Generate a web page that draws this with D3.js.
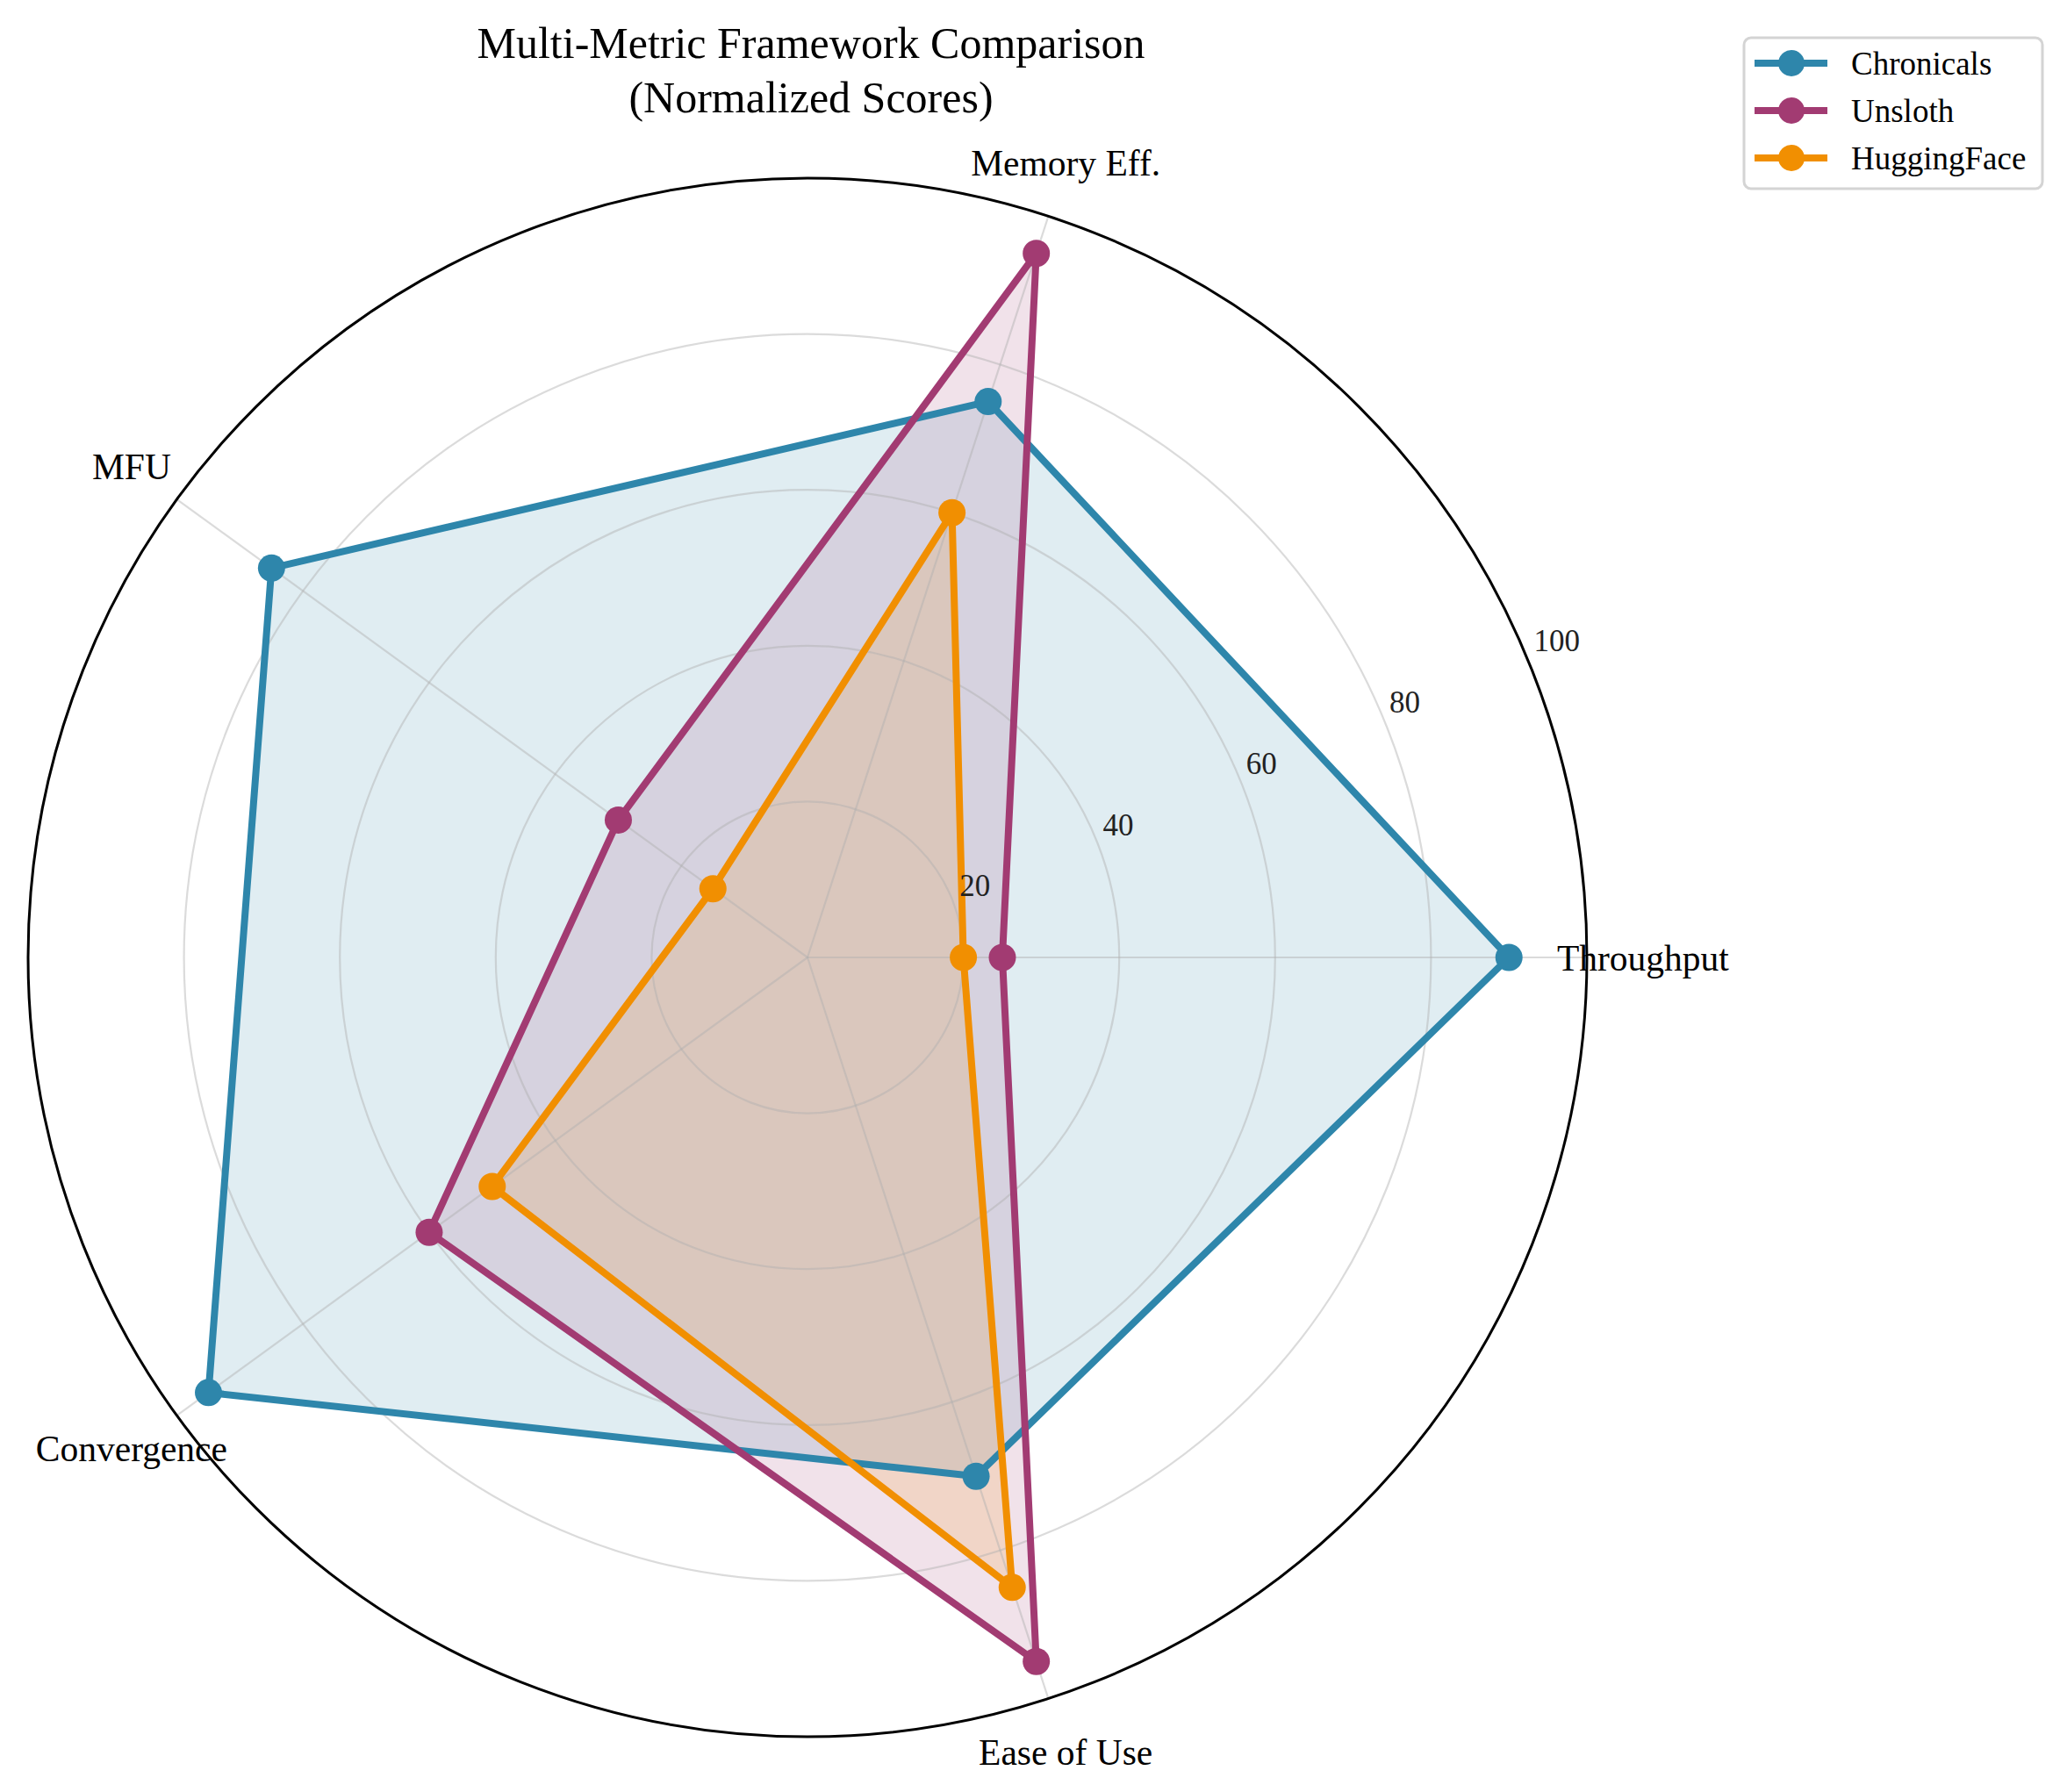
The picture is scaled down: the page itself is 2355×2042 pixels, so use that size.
<!DOCTYPE html>
<html>
<head>
<meta charset="utf-8">
<script src="https://cdn.jsdelivr.net/npm/d3@7"></script>
<style>
  body { margin: 0; background: #fff; }
  text { font-family: "Liberation Serif", "Times New Roman", serif; }
</style>
</head>
<body>
<script>
var width = 2355,
    height = 2042,
    cx = 920,
    cy = 1091,
    radius = 888;

// data
var categories = ["Throughput", "Memory Eff.", "MFU", "Convergence", "Ease of Use"];
var frameworks = ["Chronicals", "Unsloth", "HuggingFace"];
var chronicals = [90, 75, 85, 95, 70];
var unsloth = [25, 95, 30, 60, 95];
var huggingface = [20, 60, 15, 50, 85];
var rTicks = [20, 40, 60, 80, 100];
var colors = ["#2E86AB", "#A23B72", "#F18F01"];

var series = [chronicals, unsloth, huggingface].map(function(v, i) {
    return { name: frameworks[i], values: v, color: colors[i] };
});

var r = d3.scaleLinear().domain([0, 100]).range([0, radius]);

// matplotlib-style angle (ccw from +x) -> d3 radial angle (cw from 12 o'clock)
var theta = d3.scaleLinear().domain([0, categories.length]).range([0, 2 * Math.PI]);
function ang(i) { return Math.PI / 2 - theta(i); }

var svg = d3.select("body").append("svg")
    .attr("width", width)
    .attr("height", height);

var g = svg.append("g")
    .attr("transform", "translate(" + [cx, cy] + ")");

var radial = d3.lineRadial()
    .angle(function(d, i) { return ang(i); })
    .radius(function(d) { return r(d); })
    .curve(d3.curveLinearClosed);

// fills
g.append("g").selectAll("path")
    .data(series)
    .enter().append("path")
    .attr("d", function(d) { return radial(d.values); })
    .attr("fill", function(d) { return d.color; })
    .attr("fill-opacity", 0.15)
    .attr("stroke", "none");

// grid
var grid = g.append("g")
    .attr("stroke", "#b0b0b0")
    .attr("stroke-opacity", 0.45)
    .attr("stroke-width", 2.2)
    .attr("fill", "none");

grid.selectAll("circle")
    .data(rTicks.slice(0, -1))
    .enter().append("circle")
    .attr("r", function(d) { return r(d); });

grid.selectAll("line")
    .data(categories)
    .enter().append("line")
    .attr("x1", 0).attr("y1", 0)
    .attr("x2", function(d, i) { return Math.sin(ang(i)) * r(100); })
    .attr("y2", function(d, i) { return -Math.cos(ang(i)) * r(100); });

// lines + markers
var sg = g.append("g").selectAll("g")
    .data(series)
    .enter().append("g");

sg.append("path")
    .attr("d", function(d) { return radial(d.values); })
    .attr("fill", "none")
    .attr("stroke", function(d) { return d.color; })
    .attr("stroke-width", 8)
    .attr("stroke-linejoin", "round");

sg.selectAll("circle")
    .data(function(d) { return d.values.map(function(v, i) { return { v: v, i: i, color: d.color }; }); })
    .enter().append("circle")
    .attr("cx", function(d) { return Math.sin(ang(d.i)) * r(d.v); })
    .attr("cy", function(d) { return -Math.cos(ang(d.i)) * r(d.v); })
    .attr("r", 15.5)
    .attr("fill", function(d) { return d.color; });

// outer spine
g.append("circle")
    .attr("r", r(100))
    .attr("fill", "none")
    .attr("stroke", "#000")
    .attr("stroke-width", 3);

// radial tick labels (at ~22.5 deg, like matplotlib)
var la = 23.2 * Math.PI / 180;
g.append("g").selectAll("text")
    .data(rTicks)
    .enter().append("text")
    .attr("x", function(d) { return (r(d) + 30) * Math.cos(la) + (d === 100 ? 10 : 0); })
    .attr("y", function(d) { return -(r(d) + 30) * Math.sin(la); })
    .attr("text-anchor", "middle")
    .attr("dy", "0.35em")
    .attr("font-size", 35)
    .attr("fill", "#222")
    .text(function(d) { return d; });

// category labels
g.append("g").selectAll("text")
    .data(categories)
    .enter().append("text")
    .attr("x", function(d, i) { return Math.sin(ang(i)) * r(107.2); })
    .attr("y", function(d, i) { return -Math.cos(ang(i)) * r(107.2); })
    .attr("text-anchor", "middle")
    .attr("dy", "0.35em")
    .attr("font-size", 41.5)
    .attr("fill", "#000")
    .text(function(d) { return d; });

// title
var title = svg.append("text")
    .attr("x", 924)
    .attr("y", 66)
    .attr("text-anchor", "middle")
    .attr("font-size", 50)
    .attr("fill", "#000");
title.append("tspan").attr("x", 924).text("Multi-Metric Framework Comparison");
title.append("tspan").attr("x", 924).attr("dy", 62).text("(Normalized Scores)");

// legend
var legend = svg.append("g")
    .attr("transform", "translate(1987,43)");

legend.append("rect")
    .attr("width", 340)
    .attr("height", 172)
    .attr("rx", 8)
    .attr("fill", "#fff")
    .attr("stroke", "#d4d4d4")
    .attr("stroke-width", 3);

var li = legend.selectAll("g.item")
    .data(series)
    .enter().append("g")
    .attr("class", "item")
    .attr("transform", function(d, i) { return "translate(0," + (29 + i * 54) + ")"; });

li.append("line")
    .attr("x1", 12).attr("x2", 95)
    .attr("stroke", function(d) { return d.color; })
    .attr("stroke-width", 8);

li.append("circle")
    .attr("cx", 54)
    .attr("r", 15)
    .attr("fill", function(d) { return d.color; });

li.append("text")
    .attr("x", 122)
    .attr("dy", "0.35em")
    .attr("font-size", 37)
    .attr("fill", "#000")
    .text(function(d) { return d.name; });
</script>
</body>
</html>
